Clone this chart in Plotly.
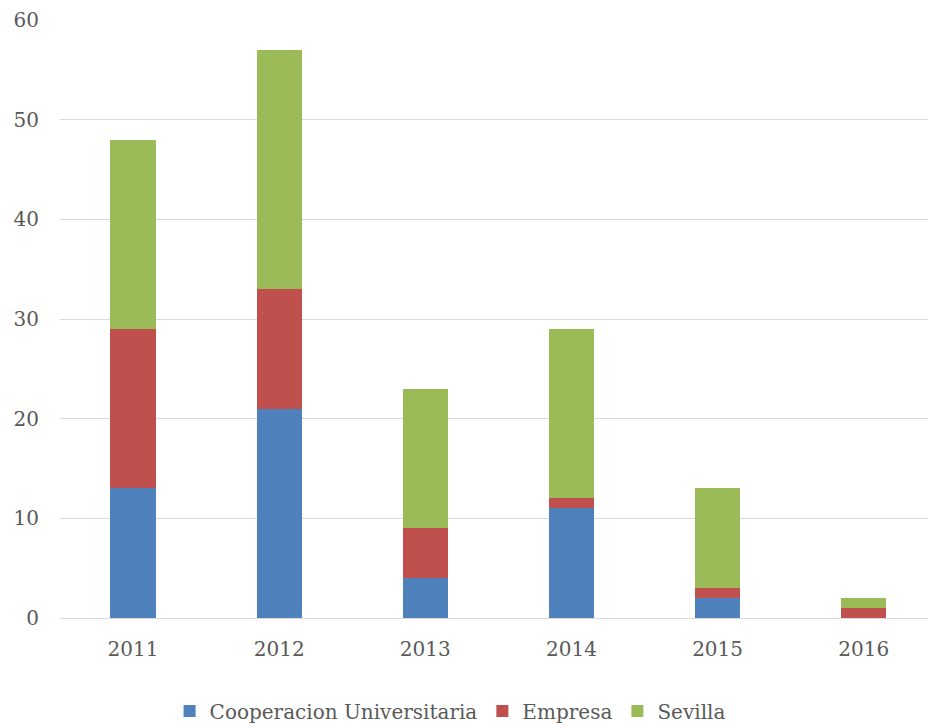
import plotly.graph_objects as go

years = ["2011", "2012", "2013", "2014", "2015", "2016"]
cooperacion = [13, 21, 4, 11, 2, 0]
empresa = [16, 12, 5, 1, 1, 1]
sevilla = [19, 24, 14, 17, 10, 1]

series = [
    ("Cooperacion Universitaria", cooperacion, "#4F81BD"),
    ("Empresa", empresa, "#C0504D"),
    ("Sevilla", sevilla, "#9BBB59"),
]

fig = go.Figure()
for name, vals, color in series:
    fig.add_trace(go.Bar(x=years, y=vals, name=name, marker=dict(color=color, line=dict(width=0))))

fnt = dict(family="DejaVu Serif", size=20, color="#595959")
fig.update_layout(
    barmode="stack",
    bargap=0.69,
    width=928, height=723,
    margin=dict(l=60, r=0, t=20, b=105),
    plot_bgcolor="white", paper_bgcolor="white",
    font=fnt,
    showlegend=True,
    legend=dict(orientation="h", x=0.485, xref="container", xanchor="center",
                y=0.0166, yref="container", yanchor="middle",
                font=fnt, traceorder="normal", itemwidth=30, tracegroupgap=0),
    xaxis=dict(range=[-0.5, 5.44], showgrid=False, showline=True, linecolor="#D9D9D9",
               linewidth=1, ticks="", tickfont=fnt, automargin=False, ticklabelstandoff=13),
    yaxis=dict(range=[0, 60], dtick=10, showgrid=True, gridcolor="#D9D9D9", gridwidth=1,
               zeroline=False, showline=False, ticks="", tickfont=fnt, automargin=False,
               ticklabelstandoff=20),
)
fig.write_html("out.html", config={"displayModeBar": False},
               post_script="document.body.style.margin='0px';")
